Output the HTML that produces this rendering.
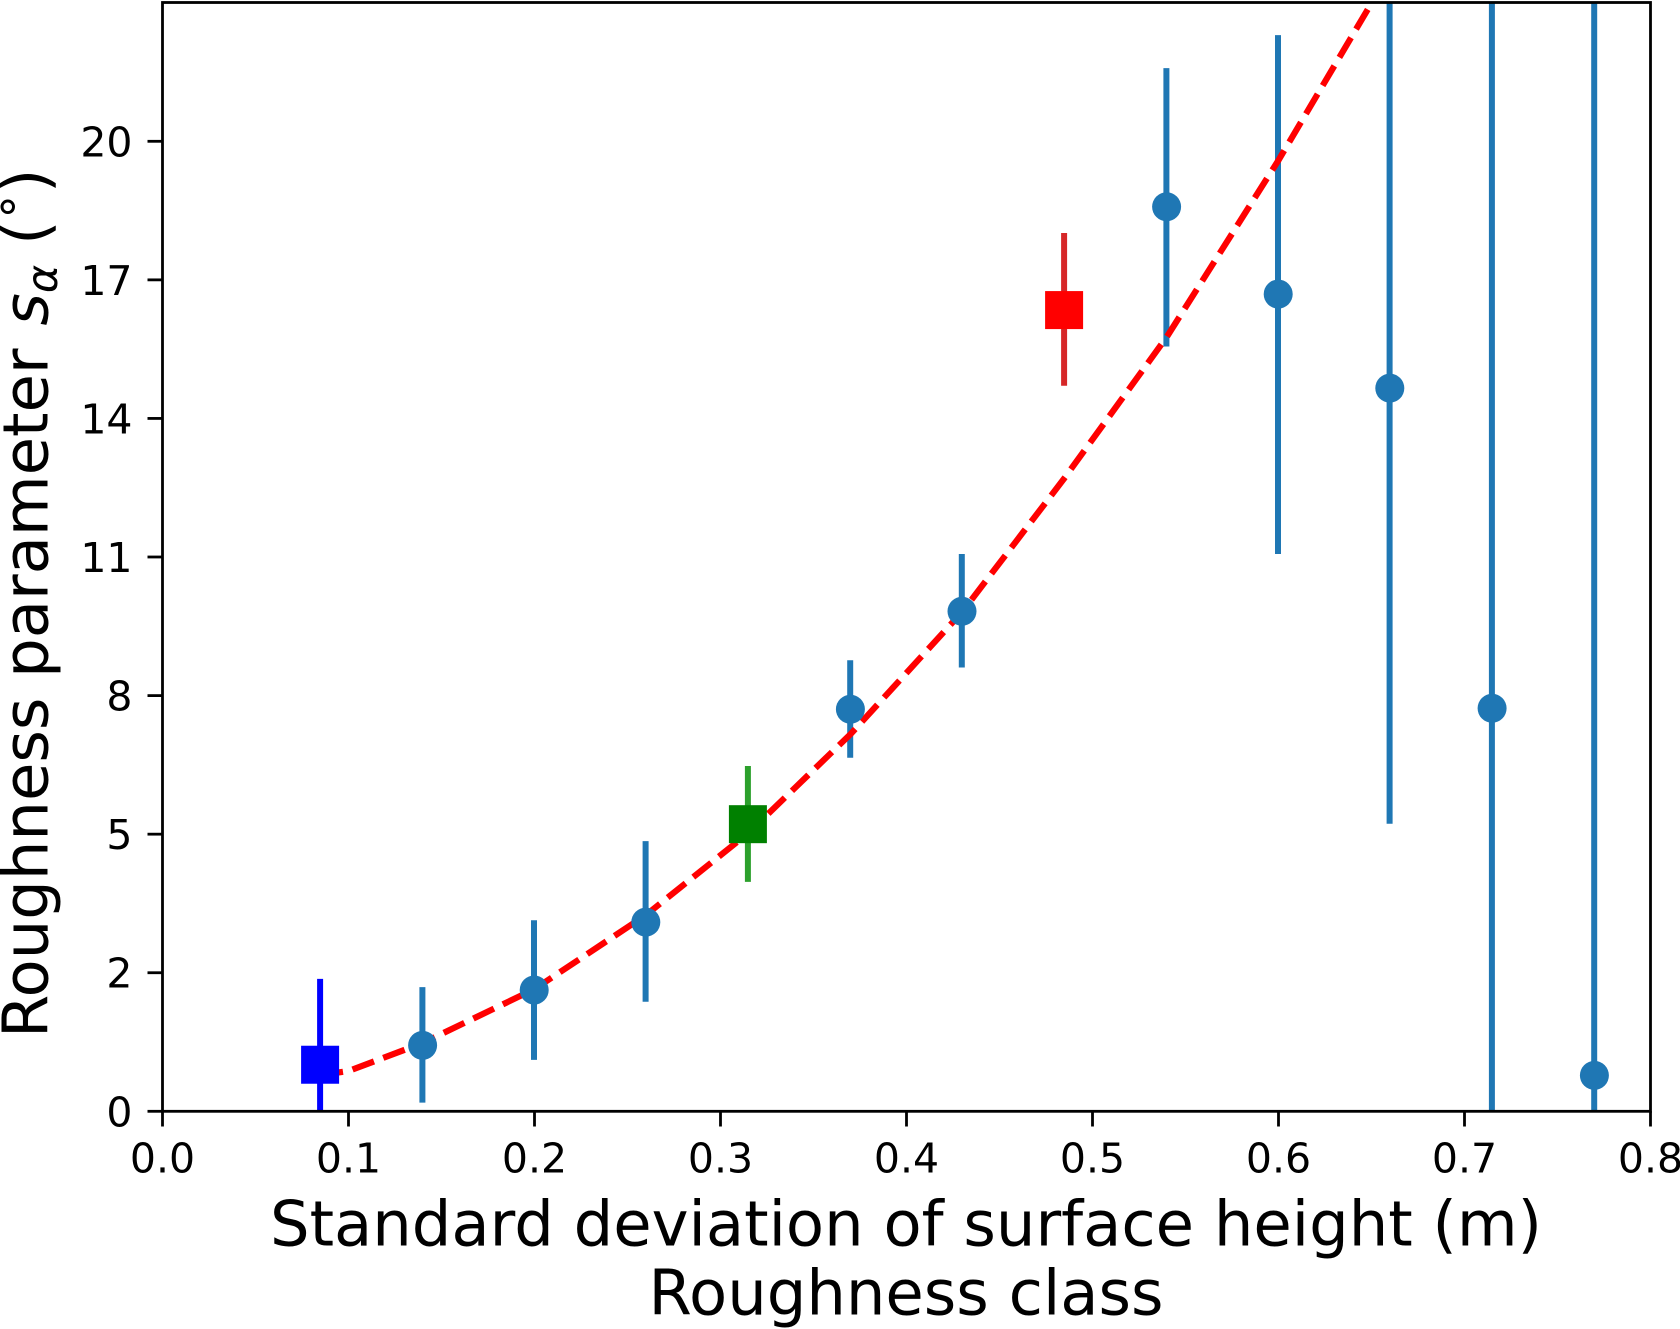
<!DOCTYPE html>
<html lang="en">
<head>
<meta charset="utf-8">
<title>Roughness parameter chart</title>
<style>
html,body{margin:0;padding:0;background:#fff;width:1680px;height:1329px;overflow:hidden}
svg{display:block;font-family:"DejaVu Sans","Liberation Sans",sans-serif;fill:#000}
</style>
</head>
<body>
<svg id="chart" width="1680" height="1329" viewBox="0 0 1680 1329" xmlns="http://www.w3.org/2000/svg">
<defs><clipPath id="plot-clip"><rect x="162.5" y="2.5" width="1488" height="1108.8"/></clipPath></defs>
<rect x="0" y="0" width="1680" height="1329" fill="#fff"/>
<g id="errs" clip-path="url(#plot-clip)"></g>
<polyline id="fit" clip-path="url(#plot-clip)" fill="none" stroke="#ff0000" stroke-width="6.2" stroke-dasharray="22.9,9.9"/>
<g id="marks" clip-path="url(#plot-clip)"></g>
<g id="ticks"></g>
<rect x="162.5" y="2.5" width="1488" height="1108.8" fill="none" stroke="#000" stroke-width="2.8"/>
<text x="906" y="1245.7" font-size="62.4" text-anchor="middle">Standard deviation of surface height (m)</text>
<text x="906" y="1314.25" font-size="62.4" text-anchor="middle">Roughness class</text>
<text transform="translate(47.5,1038) rotate(-90)" font-size="62.4">Roughness parameter <tspan font-style="italic" dx="3">s</tspan><tspan font-style="italic" font-size="43" dy="9.6">α</tspan><tspan dy="-9.6"> (</tspan><tspan font-size="47" dx="2" dy="-12">°</tspan><tspan dx="2" dy="12">)</tspan></text>
</svg>
<script>
// Data
const xValues = [0.085, 0.14, 0.2, 0.26, 0.315, 0.37, 0.43, 0.485, 0.54, 0.6, 0.66, 0.715, 0.77];
const yValues = [0.96, 1.36, 2.5, 3.9, 5.92, 8.29, 10.31, 16.52, 18.65, 16.85, 14.91, 8.31, 0.74];
const errLow = [-0.6, 0.18, 1.06, 2.26, 4.73, 7.29, 9.15, 14.96, 15.77, 11.49, 5.93, -0.6, -0.6];
const errHigh = [2.73, 2.56, 3.94, 5.57, 7.12, 9.3, 11.49, 18.11, 21.51, 22.19, 22.9, 22.9, 22.9];
const markerKinds = ['square','circle','circle','circle','square','circle','circle','square','circle','circle','circle','circle','circle'];
const markerColors = ['#0000ff','#1f77b4','#1f77b4','#1f77b4','#008000','#1f77b4','#1f77b4','#ff0000','#1f77b4','#1f77b4','#1f77b4','#1f77b4','#1f77b4'];
const errColors = ['#0000ff','#1f77b4','#1f77b4','#1f77b4','#2ca02c','#1f77b4','#1f77b4','#d62728','#1f77b4','#1f77b4','#1f77b4','#1f77b4','#1f77b4'];
const curveX = [0.085, 0.09, 0.1, 0.14, 0.2, 0.26, 0.315, 0.37, 0.4, 0.43, 0.485, 0.54, 0.6, 0.65];
const curveY = [0.72, 0.775, 0.83, 1.41, 2.52, 4.05, 5.74, 7.78, 9.04, 10.3, 13.06, 15.97, 19.61, 22.85];
const xTickValues = [0, 0.1, 0.2, 0.3, 0.4, 0.5, 0.6, 0.7, 0.8];
const xTickLabels = ['0.0','0.1','0.2','0.3','0.4','0.5','0.6','0.7','0.8'];
const yTickValues = [0, 2.857, 5.714, 8.571, 11.429, 14.286, 17.143, 20];
const yTickLabels = ['0','2','5','8','11','14','17','20'];

const NS = 'http://www.w3.org/2000/svg';
const sx = v => 162.5 + v * 1860;
const sy = v => 1111.3 - v * 48.5;
function make(tag, attrs, parent) {
  const el = document.createElementNS(NS, tag);
  for (const k in attrs) el.setAttribute(k, attrs[k]);
  parent.appendChild(el);
  return el;
}
const errs = document.getElementById('errs');
const marks = document.getElementById('marks');
const ticks = document.getElementById('ticks');

xValues.forEach((x, i) => {
  const bar = make('line', {x1: sx(x) - 0.5, x2: sx(x) - 0.5, y1: sy(errLow[i]), y2: sy(errHigh[i]), stroke: errColors[i], 'stroke-width': 6}, errs);
  
  
  let m;
  if (markerKinds[i] === 'square') {
    m = make('rect', {x: sx(x) - 19.5, y: sy(yValues[i]) - 19, width: 38, height: 38, fill: markerColors[i]}, marks);
  } else {
    m = make('circle', {cx: sx(x) - 0.3, cy: sy(yValues[i]), r: 14.5, fill: markerColors[i]}, marks);
  }
  
  
});

document.getElementById('fit').setAttribute('points', curveX.map((x, i) => sx(x) + ',' + sy(curveY[i])).join(' '));

xTickValues.forEach((v, i) => {
  const t = make('line', {x1: sx(v), x2: sx(v), y1: 1111.3, y2: 1126.5, stroke: '#000', 'stroke-width': 2.8}, ticks);
  
  
  const l = make('text', {x: sx(v), y: 1172.5, 'font-size': 41, 'text-anchor': 'middle'}, ticks);
  
  
  l.textContent = xTickLabels[i];
});
yTickValues.forEach((v, i) => {
  const t = make('line', {x1: 147.5, x2: 162.5, y1: sy(v), y2: sy(v), stroke: '#000', 'stroke-width': 2.8}, ticks);
  
  
  const l = make('text', {x: 132.5, y: sy(v) + 15, 'font-size': 41, 'text-anchor': 'end'}, ticks);
  
  
  l.textContent = yTickLabels[i];
});
</script>
</body>
</html>
